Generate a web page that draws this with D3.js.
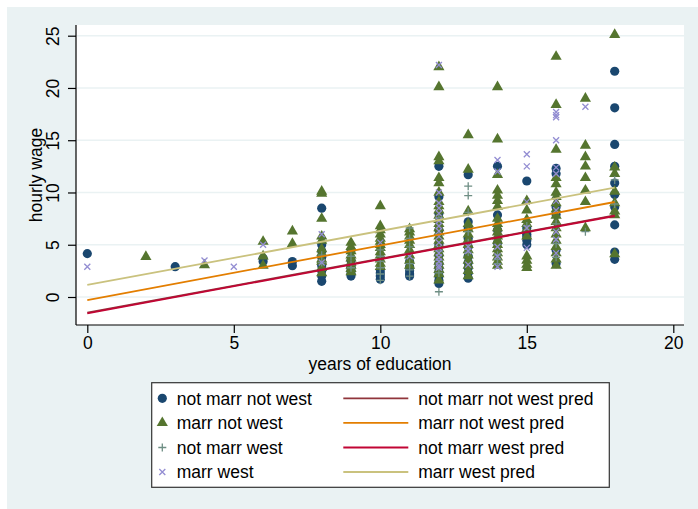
<html lang="en">
<head>
<meta charset="UTF-8">
<title>hourly wage by years of education</title>
<style>
  body { margin: 0; background: #fff; }
  text { font-family: Arial, "Liberation Sans", sans-serif; fill: #000; }
</style>
</head>
<body>
<div id="chart"></div>
<script src="https://d3js.org/d3.v7.min.js"></script>
<script>
const notMarrNotWest = [
  [0,4.15],[3,2.9],[6,3.4],[6,3.7],[7,3.4],[7,3.0],
  [8,8.5],[8,5.0],[8,4.4],[8,3.8],[8,3.2],[8,3.0],[8,2.5],[8,2.0],[8,1.5],
  [9,4.5],[9,3.5],[9,3.0],[9,2.8],[9,2.5],[9,2.2],[9,2.0],
  [10,2.6],[10,2.3],[10,2.0],[10,1.7],
  [11,3.4],[11,2.9],[11,2.5],[11,2.2],[11,2.0],
  [12,12.5],[12,9.6],[12,8.0],[12,6.4],[12,5.0],[12,4.0],[12,3.2],[12,2.8],[12,2.4],[12,2.0],[12,1.6],[12,1.3],
  [13,11.7],[13,7.2],[13,6.6],[13,5.6],[13,4.8],[13,3.9],[13,3.3],[13,2.8],[13,2.3],[13,1.8],
  [14,12.5],[14,7.85],[14,6.4],[14,5.2],
  [15,11.1],[15,6.6],[15,6.0],[15,5.8],[15,5.4],[15,5.0],
  [16,12.3],[16,11.8],[16,8.6],[16,7.9],[16,4.5],[16,3.2],
  [18,21.6],[18,18.1],[18,14.6],[18,12.5],[18,10.9],[18,9.8],[18,8.6],[18,6.9],[18,4.3],[18,3.6]
];
const marrNotWest = [
  [2,3.85],[4,3.05],[6,5.3],[6,3.9],[6,3.0],[7,6.3],[7,5.1],
  [8,10.1],[8,9.9],[8,7.5],[8,5.8],[8,5.4],[8,4.6],[8,4.2],[8,3.6],[8,3.4],[8,2.8],[8,2.3],
  [9,5.2],[9,4.8],[9,4.4],[9,4.0],[9,3.7],[9,3.3],[9,3.0],[9,2.7],[9,2.4],
  [10,8.7],[10,6.8],[10,6.4],[10,6.0],[10,5.6],[10,5.3],[10,5.0],[10,4.7],[10,4.3],[10,4.0],[10,3.6],[10,3.2],[10,2.9],
  [11,6.5],[11,6.2],[11,5.8],[11,5.4],[11,5.0],[11,4.5],[11,4.0],[11,3.5],[11,3.0],
  [12,22.0],[12,20.1],[12,13.4],[12,13.0],[12,11.4],[12,10.9],[12,10.0],[12,9.1],[12,8.7],[12,8.3],[12,7.8],[12,7.4],
  [12,7.0],[12,6.6],[12,6.2],[12,5.8],[12,5.4],[12,5.0],[12,4.6],[12,4.2],[12,3.8],[12,3.4],[12,3.0],[12,2.6],[12,2.2],[12,1.6],
  [13,15.5],[13,12.2],[13,8.2],[13,7.0],[13,6.5],[13,6.0],[13,5.5],[13,5.0],[13,4.5],[13,4.0],[13,3.5],[13,3.0],[13,2.5],[13,2.0],
  [14,20.1],[14,15.1],[14,11.7],[14,10.2],[14,9.7],[14,9.2],[14,8.65],[14,7.5],[14,7.0],[14,6.6],[14,6.2],[14,5.8],
  [14,5.4],[14,5.0],[14,4.6],[14,4.2],[14,3.8],[14,3.4],[14,3.0],
  [15,9.2],[15,8.3],[15,7.4],[15,7.0],[15,6.5],[15,5.8],[15,3.9],[15,3.5],[15,3.1],[15,2.8],
  [16,23.0],[16,18.4],[16,14.1],[16,11.4],[16,10.8],[16,10.0],[16,9.6],[16,9.0],[16,8.4],[16,7.8],[16,7.2],[16,6.6],
  [16,6.0],[16,5.4],[16,4.8],[16,4.2],[16,3.6],[16,3.0],
  [17,19.0],[17,14.5],[17,13.4],[17,12.5],[17,11.4],[17,10.2],[17,9.1],[17,6.6],
  [18,25.1],[18,12.4],[18,11.8],[18,10.1],[18,9.0],[18,8.2],[18,7.85],[18,4.1]
];
const notMarrWest = [
  [8,4.0],[8,3.3],[9,3.9],[9,3.1],[9,2.8],
  [10,4.5],[10,3.9],[10,3.4],[10,2.8],[10,2.2],[10,1.6],
  [11,6.6],[11,5.6],[11,4.8],[11,3.2],[11,2.6],[11,2.0],
  [12,7.6],[12,6.0],[12,4.4],[12,3.5],[12,2.3],[12,0.5],
  [13,10.6],[13,9.7],[13,8.1],[13,6.25],[13,5.2],[13,4.3],
  [14,4.0],[14,3.6],[14,3.2],[15,6.8],
  [16,7.0],[16,5.1],[16,3.8],[17,6.25],[18,11.2],[18,8.9]
];
const marrWest = [
  [0,2.9],[4,3.5],[5,2.9],[6,5.0],[8,6.0],[8,3.3],[10,5.2],[11,3.9],
  [12,22.2],[12,10.0],[12,9.0],[12,8.5],[12,8.0],[12,7.3],[12,6.8],[12,6.3],[12,5.8],[12,5.2],[12,4.7],[12,4.2],
  [12,3.8],[12,3.4],[12,3.0],[12,2.8],
  [13,4.8],[13,4.4],[13,3.1],
  [14,13.1],[14,12.0],[14,4.8],[14,3.9],[14,2.9],
  [15,13.65],[15,12.5],[15,9.1],[15,6.6],[15,4.7],
  [16,17.7],[16,17.4],[16,17.2],[16,15.0],[16,12.4],[16,11.8],[16,9.2],[16,8.3],[16,6.25],[16,5.5],[16,4.2],
  [17,18.2]
];

// fitted lines, ends at educ 0 and 18
const predEduc = [0, 18];
const predNotMarrNotWest = [-1.5, 7.8];
const predMarrNotWest = [-0.29, 9.09];
const predNotMarrWest = [-1.56, 7.75];
const predMarrWest = [1.15, 10.46];

const xTicks = [0, 5, 10, 15, 20];
const yTicks = [0, 5, 10, 15, 20, 25];

const scatterLabels = ["not marr not west", "marr not west", "not marr west", "marr west"];
const lineLabels = ["not marr not west pred", "marr not west pred", "not marr west pred", "marr west pred"];

const W = 698, H = 509;
const plot = {left: 76, right: 684, top: 25, bottom: 325};

const svg = d3.select("#chart").append("svg")
  .attr("width", W).attr("height", H);

// graph region and plot region
svg.append("rect").attr("x", 7).attr("y", 7).attr("width", W - 7).attr("height", H - 7)
  .attr("fill", "#eaf2f3");
svg.append("rect").attr("x", plot.left).attr("y", plot.top)
  .attr("width", plot.right - plot.left).attr("height", plot.bottom - plot.top)
  .attr("fill", "#fff");

const x = d3.scaleLinear().domain([0, 20]).range([87.3, 673.3]);
const y = d3.scaleLinear().domain([0, 25]).range([297, 35.7]);

// grid
svg.append("g").selectAll("line").data(yTicks).join("line")
  .attr("x1", plot.left + 1).attr("x2", plot.right)
  .attr("y1", d => y(d)).attr("y2", d => y(d))
  .attr("stroke", "#eaf2f3").attr("stroke-width", 1.5);

// axes
const xAxis = svg.append("g")
  .attr("transform", `translate(0,${plot.bottom})`)
  .call(d3.axisBottom(x).tickValues(xTicks).tickSize(8).tickPadding(4).tickSizeOuter(0));
xAxis.select(".domain").attr("d", `M${plot.left},0H${plot.right}`);

const yAxis = svg.append("g")
  .attr("transform", `translate(${plot.left},0)`)
  .call(d3.axisLeft(y).tickValues(yTicks).tickSize(8).tickSizeOuter(0));
yAxis.select(".domain").attr("d", `M0,${plot.top}V${plot.bottom}`);

svg.selectAll(".tick line, .domain").attr("stroke", "#000").attr("stroke-width", 1.2);
xAxis.selectAll("text").attr("font-size", 17.5).attr("font-family", "Arial, 'Liberation Sans', sans-serif");
yAxis.selectAll("text")
  .attr("font-size", 17.5).attr("font-family", "Arial, 'Liberation Sans', sans-serif")
  .attr("text-anchor", "middle").attr("x", 0).attr("dy", 0)
  .attr("dominant-baseline", "central")
  .attr("transform", "translate(-23,0) rotate(-90)");

svg.append("text").attr("x", (plot.left + plot.right) / 2).attr("y", 370)
  .attr("text-anchor", "middle").attr("font-size", 17.5).text("years of education");
svg.append("text").attr("transform", `translate(42,${(plot.top + plot.bottom) / 2}) rotate(-90)`)
  .attr("text-anchor", "middle").attr("font-size", 17.5).text("hourly wage");

// marker shapes
const colors = {navy: "#1a476f", green: "#55752f", teal: "#6e8e84", lav: "#938dd2"};
const circle = d3.symbol().type(d3.symbolCircle).size(66);
const triangle = d3.symbol().type(d3.symbolTriangle).size(54);
const plusPath = "M-4,0H4M0,-4V4";
const crossPath = "M-3,-3L3,3M-3,3L3,-3";

function drawMarkers(g, kind) {
  if (kind === 0) g.attr("d", circle).attr("fill", colors.navy);
  if (kind === 1) g.attr("d", triangle).attr("fill", colors.green);
  if (kind === 2) g.attr("d", plusPath).attr("fill", "none").attr("stroke", colors.teal).attr("stroke-width", 1.3);
  if (kind === 3) g.attr("d", crossPath).attr("fill", "none").attr("stroke", colors.lav).attr("stroke-width", 1.3);
}

[notMarrNotWest, marrNotWest, notMarrWest, marrWest].forEach((pts, i) => {
  svg.append("g").selectAll("path").data(pts).join("path")
    .attr("transform", d => `translate(${x(d[0])},${y(d[1])})`)
    .call(drawMarkers, i);
});

// fitted lines
const lineColors = ["#90353b", "#e37e00", "#c10534", "#cac27e"];
const line = d3.line().x(d => x(d[0])).y(d => y(d[1]));
[predNotMarrNotWest, predMarrNotWest, predNotMarrWest, predMarrWest].forEach((vals, i) => {
  svg.append("path")
    .datum(predEduc.map((e, j) => [e, vals[j]]))
    .attr("fill", "none")
    .attr("stroke", lineColors[i])
    .attr("stroke-width", 1.8)
    .attr("d", line);
});

// legend
const leg = svg.append("g");
leg.append("rect").attr("x", 151.7).attr("y", 382.7).attr("width", 457.6).attr("height", 104.6)
  .attr("fill", "#fff").attr("stroke", "#333").attr("stroke-width", 1.2);
const rowY = [398.3, 422.9, 447.5, 472];
scatterLabels.forEach((lab, i) => {
  leg.append("path").attr("transform", `translate(162.3,${rowY[i]})`).call(drawMarkers, i);
  leg.append("text").attr("x", 176.7).attr("y", rowY[i]).attr("dy", "0.36em")
    .attr("font-size", 17.5).text(lab);
});
lineLabels.forEach((lab, i) => {
  leg.append("line").attr("x1", 343.3).attr("x2", 408.3).attr("y1", rowY[i]).attr("y2", rowY[i])
    .attr("stroke", lineColors[i]).attr("stroke-width", 1.8);
  leg.append("text").attr("x", 418.3).attr("y", rowY[i]).attr("dy", "0.36em")
    .attr("font-size", 17.5).text(lab);
});
</script>
</body>
</html>
